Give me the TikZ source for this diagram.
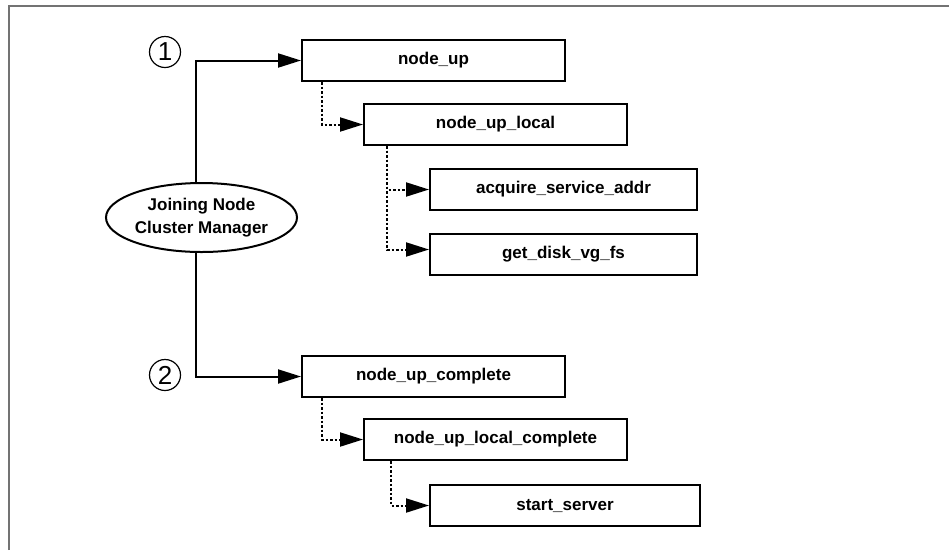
\documentclass[tikz,border=0pt]{standalone}
\usepackage{fontspec}
\setmainfont{Liberation Sans}
\usetikzlibrary{arrows.meta,shapes.geometric}
\begin{document}
\begin{tikzpicture}[x=1pt,y=-1pt,
  box/.style={draw,line width=2pt,minimum width=263pt,minimum height=41pt,inner sep=0pt,anchor=north west,font=\fontsize{17}{20}\selectfont\bfseries},
  ell/.style={draw,ellipse,line width=2pt,minimum width=191pt,minimum height=69pt,inner sep=0pt,align=center,font=\fontsize{17}{23}\selectfont\bfseries},
  conn/.style={line width=2pt,-{Triangle[length=23pt,width=14pt]}},
  dconn/.style={conn,dash pattern=on 2.5pt off 2pt},
  num/.style={draw,circle,line width=1.2pt,minimum size=31pt,inner sep=0pt,font=\fontsize{26}{26}\selectfont},
  frameline/.style={line width=2pt,draw=black!55}]
\useasboundingbox (0,0) rectangle (949,550);
\draw[frameline] (9,550) -- (9,6) -- (949,6);

\node[ell] (ell) at (201.5,217.5) {Joining Node\\Cluster Manager};
\coordinate (vx) at (196,0);

\node[box] (nu) at (301,39) {node\_up};
\node[box] (nul) at (363,103) {node\_up\_local};
\node[box,minimum width=267pt] (acq) at (429,168) {acquire\_service\_addr};
\node[box,minimum width=267pt] (gd) at (429,233) {get\_disk\_vg\_fs};
\node[box] (nuc) at (301,355) {node\_up\_complete};
\node[box] (nulc) at (363,418) {node\_up\_local\_complete};
\node[box,minimum width=270pt] (ss) at (429,484) {start\_server};

\node[num] (n1) at (165,52) {1};
\node[num] (n2) at (165,375) {2};

\draw[conn] (ell.north -| vx) |- (nu.west);
\draw[conn] (ell.south -| vx) |- (nuc.west);

\draw[dconn] ([xshift=21pt]nu.south west) |- (nul.west);
\draw[dconn] ([xshift=24pt]nul.south west) |- (acq.west);
\draw[dconn] ([xshift=24pt]nul.south west) |- ([yshift=5pt]gd.west);
\draw[dconn] ([xshift=21pt]nuc.south west) |- (nulc.west);
\draw[dconn] ([xshift=28pt]nulc.south west) |- (ss.west);
\end{tikzpicture}
\end{document}
